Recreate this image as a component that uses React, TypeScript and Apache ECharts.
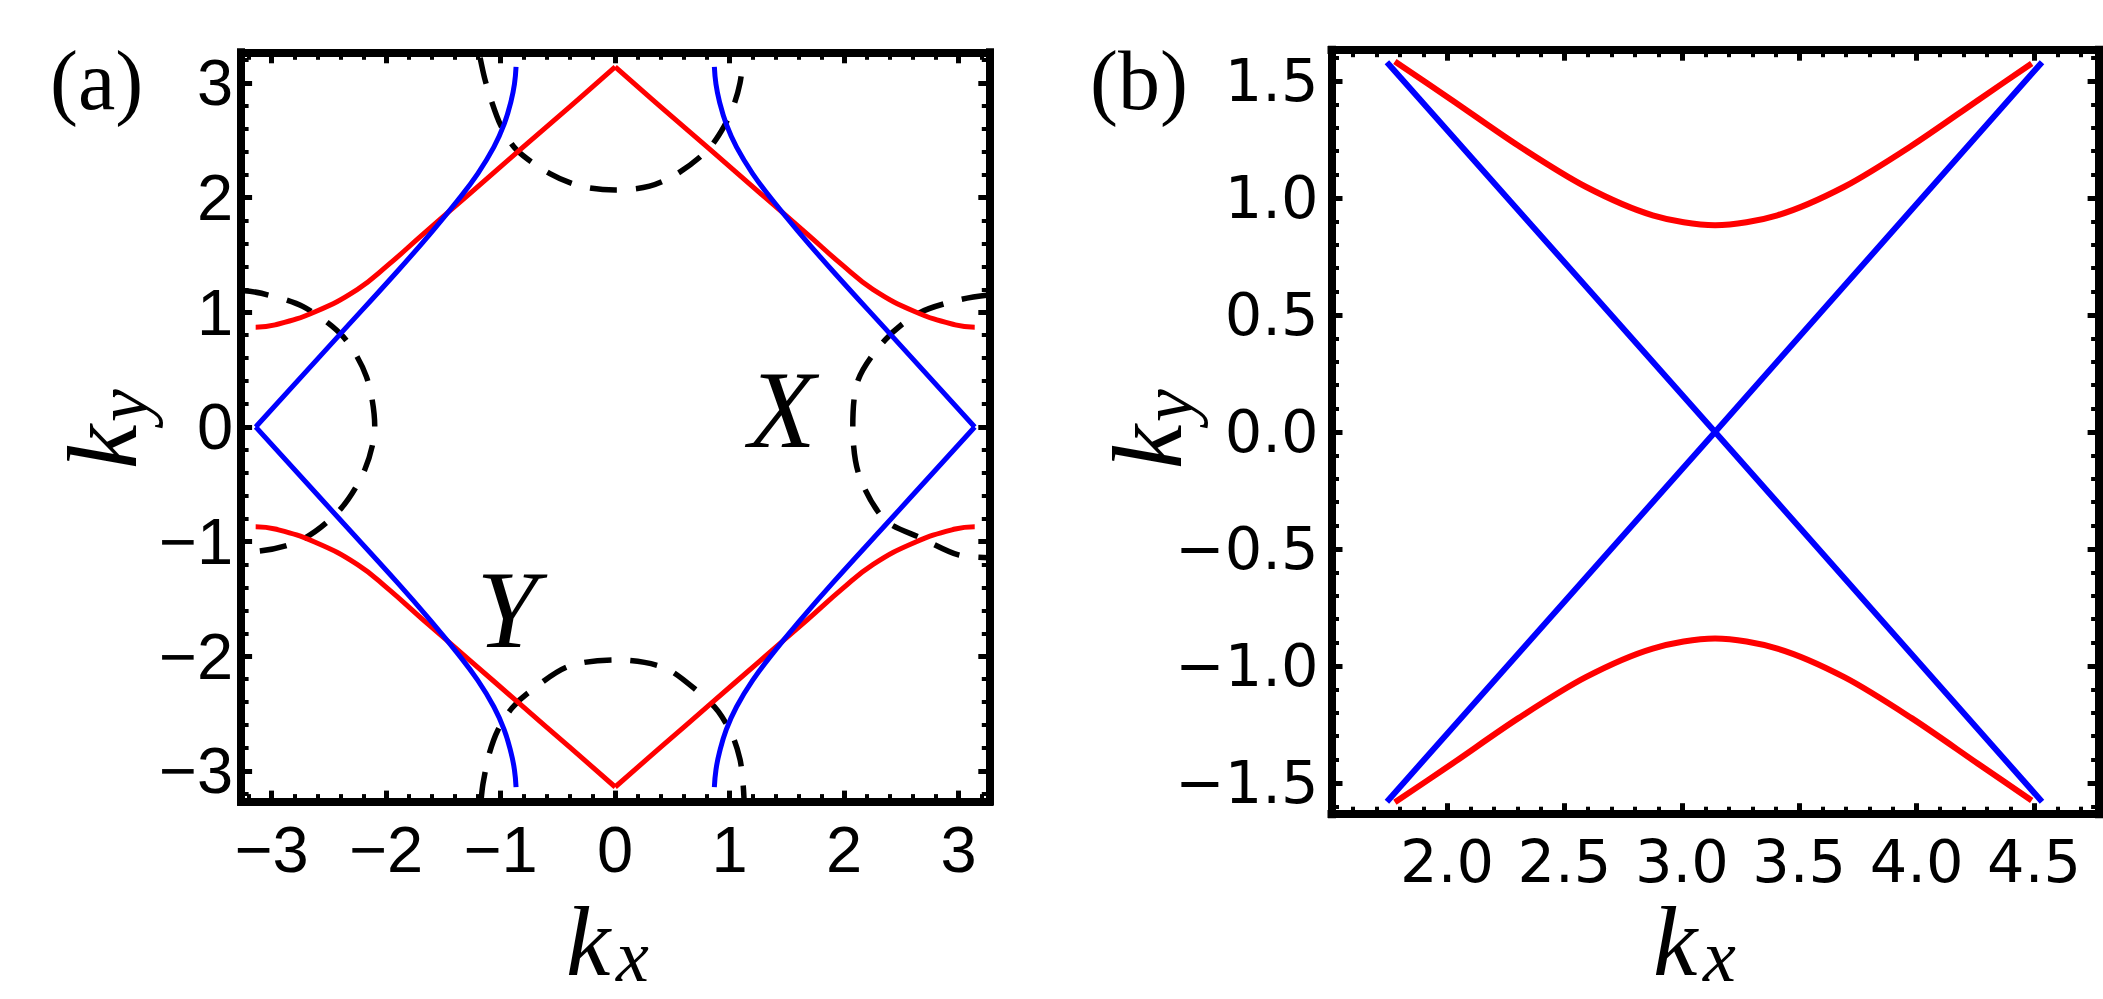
import React, { useEffect, useRef } from "react";
import * as echarts from "echarts";

const A_RED_UL = [[-3.14, 0.87], [-2.97, 0.89], [-2.62, 1.005], [-2.25, 1.2], [-1.98, 1.415], [-1.68, 1.68], [-1.27, 2.035], [-0.83, 2.418], [-0.4, 2.79], [0, 3.14]];
const A_RED_UR = [[0, 3.14], [0.4, 2.79], [0.83, 2.418], [1.27, 2.035], [1.68, 1.68], [1.98, 1.415], [2.25, 1.2], [2.62, 1.005], [2.97, 0.89], [3.14, 0.87]];
const A_RED_LL = [[-3.14, -0.87], [-2.97, -0.89], [-2.62, -1.005], [-2.25, -1.2], [-1.98, -1.415], [-1.68, -1.68], [-1.27, -2.035], [-0.83, -2.418], [-0.4, -2.79], [0, -3.14]];
const A_RED_LR = [[0, -3.14], [0.4, -2.79], [0.83, -2.418], [1.27, -2.035], [1.68, -1.68], [1.98, -1.415], [2.25, -1.2], [2.62, -1.005], [2.97, -0.89], [3.14, -0.87]];

const A_BLUE_UL = [[-3.14, 0], [-2.42, 0.79], [-1.9, 1.36], [-1.62, 1.68], [-1.38, 1.97], [-1.2, 2.21], [-1.06, 2.44], [-0.97, 2.64], [-0.91, 2.84], [-0.88, 2.99], [-0.866, 3.14]];
const A_BLUE_LL = [[-3.14, 0], [-2.42, -0.79], [-1.9, -1.36], [-1.62, -1.68], [-1.38, -1.97], [-1.2, -2.21], [-1.06, -2.44], [-0.97, -2.64], [-0.91, -2.84], [-0.88, -2.99], [-0.866, -3.14]];
const A_BLUE_UR = [[3.14, 0], [2.42, 0.79], [1.9, 1.36], [1.62, 1.68], [1.38, 1.97], [1.2, 2.21], [1.06, 2.44], [0.97, 2.64], [0.91, 2.84], [0.88, 2.99], [0.866, 3.14]];
const A_BLUE_LR = [[3.14, 0], [2.42, -0.79], [1.9, -1.36], [1.62, -1.68], [1.38, -1.97], [1.2, -2.21], [1.06, -2.44], [0.97, -2.64], [0.91, -2.84], [0.88, -2.99], [0.866, -3.14]];

const A_DASH_TOP = [[-1.18, 3.22], [-1.14, 3.04], [-1.09, 2.87], [-1.0, 2.63], [-0.86, 2.415], [-0.57, 2.21], [-0.3, 2.1], [0, 2.066], [0.3, 2.1], [0.545, 2.21], [0.807, 2.415], [0.95, 2.62], [1.04, 2.82], [1.09, 3.0], [1.12, 3.22]];
const A_DASH_BOTTOM = [[-1.17, -3.24], [-1.154, -3.107], [-1.1, -2.85], [-1.024, -2.642], [-0.9, -2.45], [-0.762, -2.32], [-0.413, -2.09], [0, -2.031], [0.43, -2.1], [0.75, -2.33], [0.9, -2.48], [1.027, -2.7], [1.09, -2.9], [1.114, -3.078], [1.125, -3.24]];
const A_DASH_LEFT = [[-3.26, 1.19], [-3.09, 1.166], [-2.725, 1.049], [-2.376, 0.787], [-2.173, 0.439], [-2.1, 0], [-2.188, -0.375], [-2.406, -0.724], [-2.74, -0.985], [-3.147, -1.087], [-3.26, -1.09]];
const A_DASH_RIGHT = [[3.26, 1.15], [2.998, 1.107], [2.648, 0.991], [2.356, 0.758], [2.122, 0.41], [2.075, 0], [2.13, -0.42], [2.356, -0.811], [2.677, -0.971], [2.998, -1.116], [3.26, -1.14]];

const B_BLUE_1 = [[1.744, 1.58], [3.1416, 0], [4.534, -1.58]];
const B_BLUE_2 = [[1.744, -1.58], [3.1416, 0], [4.534, 1.58]];
const B_RED_TOP = [[1.778, 1.583], [2.02, 1.419], [2.306, 1.222], [2.591, 1.048], [2.876, 0.926], [3.1416, 0.883], [3.407, 0.926], [3.692, 1.048], [3.977, 1.222], [4.263, 1.419], [4.49, 1.575]];
const B_RED_BOTTOM = [[1.778, -1.583], [2.02, -1.419], [2.306, -1.222], [2.591, -1.048], [2.876, -0.926], [3.1416, -0.883], [3.407, -0.926], [3.692, -1.048], [3.977, -1.222], [4.263, -1.419], [4.49, -1.575]];

// ---------- Tick labels ----------
const A_TICKS = [-3, -2, -1, 0, 1, 2, 3];
const B_X_TICKS = [2.0, 2.5, 3.0, 3.5, 4.0, 4.5];
const B_Y_TICKS = [-1.5, -1.0, -0.5, 0.0, 0.5, 1.0, 1.5];

// ---------- Axis ranges ----------
const A_MIN = -3.2673;
const A_MAX = 3.2673;
const B_X_MIN = 1.508;
const B_X_MAX = 4.775;
const B_Y_MIN = -1.6336;
const B_Y_MAX = 1.6336;

const RED = "#ff0000";
const BLUE = "#0000ff";
const BLACK = "#000000";
const SERIF = "'Liberation Serif', 'Times New Roman', serif";

const minus = (s: string) => s.replace("-", "\u2212");

function frameAxis(gridIndex: number, position: string, min: number, max: number, ticks: number[], label: any) {
  return {
    type: "value",
    gridIndex,
    position,
    min,
    max,
    splitNumber: 5,
    axisLine: { show: true, onZero: false, lineStyle: { color: BLACK, width: 8, cap: "square" } },
    axisTick: { show: true, inside: true, length: 11, customValues: ticks, lineStyle: { color: BLACK, width: 5 } },
    minorTick: { show: true, splitNumber: 5, length: 7.5, lineStyle: { color: BLACK, width: 4 } },
    axisLabel: label ? { show: true, customValues: ticks, color: BLACK, hideOverlap: false, ...label } : { show: false },
    splitLine: { show: false },
    minorSplitLine: { show: false },
  };
}

function curve(data: number[][], color: string, width: number, idx: number, dashed = false, smooth: number | boolean = 0.45) {
  return {
    type: "line",
    xAxisIndex: idx,
    yAxisIndex: idx,
    data,
    showSymbol: false,
    symbol: "none",
    smooth,
    silent: true,
    z: 3,
    lineStyle: { color, width, type: dashed ? [27, 19] : "solid", cap: "butt", join: "miter" },
  };
}

const A_LABEL_X = { margin: 15, fontSize: 65, fontFamily: "'Liberation Sans', Arial, sans-serif", formatter: (v: number) => minus(String(v)) };
const A_LABEL_Y = { margin: 8, fontSize: 65, fontFamily: "'Liberation Sans', Arial, sans-serif", formatter: (v: number) => minus(String(v)) };
const B_LABEL_X = { margin: 18, fontSize: 59, fontFamily: "'DejaVu Sans', sans-serif", formatter: (v: number) => minus(v.toFixed(1)) };
const B_LABEL_Y = { margin: 13, fontSize: 59, fontFamily: "'DejaVu Sans', sans-serif", formatter: (v: number) => minus(v.toFixed(1)) };

function txt(text: string, x: number, y: number, size: number, italic: boolean, align = "left") {
  return {
    type: "text",
    x,
    y,
    silent: true,
    style: {
      text,
      fontSize: size,
      fontFamily: SERIF,
      fontStyle: italic ? "italic" : "normal",
      fill: BLACK,
      align,
      verticalAlign: "middle",
    },
  };
}

export default function App() {
  const ref = useRef<HTMLDivElement>(null);
  useEffect(() => {
    if (!ref.current) return;
    const chart = echarts.init(ref.current, null, { renderer: "svg" });
    chart.setOption({
      animation: false,
      backgroundColor: "#ffffff",
      grid: [
        { left: 241.1, top: 52.3, width: 748.2, height: 749.3, containLabel: false, outerBoundsMode: "none" },
        { left: 1331.5, top: 49.7, width: 767.1, height: 764.5, containLabel: false, outerBoundsMode: "none" },
      ],
      xAxis: [
        frameAxis(0, "bottom", A_MIN, A_MAX, A_TICKS, A_LABEL_X),
        frameAxis(0, "top", A_MIN, A_MAX, A_TICKS, null),
        frameAxis(1, "bottom", B_X_MIN, B_X_MAX, B_X_TICKS, B_LABEL_X),
        frameAxis(1, "top", B_X_MIN, B_X_MAX, B_X_TICKS, null),
      ],
      yAxis: [
        frameAxis(0, "left", A_MIN, A_MAX, A_TICKS, A_LABEL_Y),
        frameAxis(0, "right", A_MIN, A_MAX, A_TICKS, null),
        frameAxis(1, "left", B_Y_MIN, B_Y_MAX, B_Y_TICKS, B_LABEL_Y),
        frameAxis(1, "right", B_Y_MIN, B_Y_MAX, B_Y_TICKS, null),
      ],
      series: [
        curve(A_DASH_TOP, BLACK, 5.5, 0, true, 0.3),
        curve(A_DASH_BOTTOM, BLACK, 5.5, 0, true, 0.3),
        curve(A_DASH_LEFT, BLACK, 5.5, 0, true, 0.3),
        curve(A_DASH_RIGHT, BLACK, 5.5, 0, true, 0.3),
        curve(A_RED_UL, RED, 5, 0),
        curve(A_RED_UR, RED, 5, 0),
        curve(A_RED_LL, RED, 5, 0),
        curve(A_RED_LR, RED, 5, 0),
        curve(A_BLUE_UL, BLUE, 5, 0),
        curve(A_BLUE_LL, BLUE, 5, 0),
        curve(A_BLUE_UR, BLUE, 5, 0),
        curve(A_BLUE_LR, BLUE, 5, 0),
        curve(B_RED_TOP, RED, 6, 2, false, 0.3),
        curve(B_RED_BOTTOM, RED, 6, 2, false, 0.3),
        curve(B_BLUE_1, BLUE, 6, 2, false, false),
        curve(B_BLUE_2, BLUE, 6, 2, false, false),
      ],
      graphic: [
        txt("(a)", 50, 80, 84, false),
        txt("(b)", 1090, 80, 84, false),
        txt("X", 782, 410, 110, true, "center"),
        txt("Y", 507, 610, 110, true, "center"),
        txt("k", 566, 941, 100, true),
        txt("x", 616, 956, 74, true),
        txt("k", 1653, 941, 100, true),
        txt("x", 1703, 956, 74, true),
        {
          type: "group",
          x: 102,
          y: 469,
          rotation: Math.PI / 2,
          children: [txt("k", 0, 0, 100, true), txt("y", 47, 20, 74, true)],
        },
        {
          type: "group",
          x: 1147,
          y: 469,
          rotation: Math.PI / 2,
          children: [txt("k", 0, 0, 100, true), txt("y", 47, 20, 74, true)],
        },
      ],
    });
    return () => chart.dispose();
  }, []);
  return (
    <div
      ref={ref}
      style={{ position: "fixed", left: 0, top: 0, width: 2103, height: 999, background: "#ffffff" }}
    />
  );
}
